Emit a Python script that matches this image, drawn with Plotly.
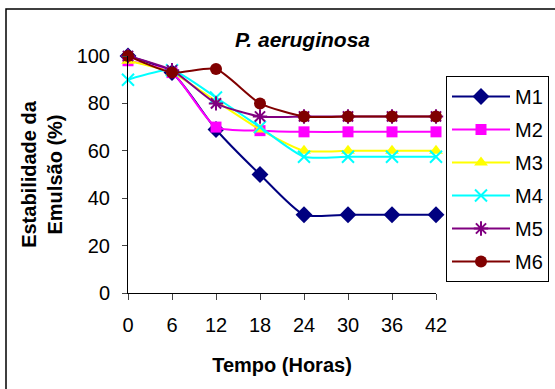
import plotly.graph_objects as go

# Time points (hours) and emulsion stability (%) for each medium
tempo = [0, 6, 12, 18, 24, 30, 36, 42]
m1 = [100, 93, 69, 50, 33, 33, 33, 33]
m2 = [98, 93, 70, 68.5, 68, 68, 68, 68]
m3 = [98, 93, 81, 69, 60, 60, 60, 60]
m4 = [90, 94, 82.5, 70, 57.5, 57.5, 57.5, 57.5]
m5 = [100, 94, 80, 74.5, 74.5, 74.5, 74.5, 74.5]
m6 = [100, 93, 94.5, 80, 74.5, 74.5, 74.5, 74.5]

series = [
    ("M1", m1, "#000080", dict(symbol="diamond", size=13)),
    ("M2", m2, "#FF00FF", dict(symbol="square", size=11)),
    ("M3", m3, "#FFFF00", dict(symbol="triangle-up", size=12)),
    ("M4", m4, "#00FFFF", dict(symbol="x-thin-open", size=12, line=dict(width=2, color="#00FFFF"))),
    ("M5", m5, "#800080", dict(symbol="asterisk-open", size=12, line=dict(width=2, color="#800080"))),
    ("M6", m6, "#800000", dict(symbol="circle", size=12)),
]

fig = go.Figure()
for i, (name, vals, color, mk) in enumerate(series):
    fig.add_trace(go.Scatter(
        x=tempo, y=vals, name=name, mode="lines+markers",
        line=dict(color=color, width=2, shape="spline", smoothing=0.6),
        marker=dict(color=color, **mk),
        cliponaxis=False, legendgroup=f"g{i}",
    ))

font_family = "Liberation Sans, Arial, sans-serif"

# plot area in pixels: x 128..436, y 56..293
L, R, T, B = 128, 436, 56, 293
W, H = R - L, B - T


def px_x(p):
    return (p - L) / W


def px_y(p):
    return (B - p) / H


fig.update_layout(
    width=555, height=389,
    margin=dict(l=L, r=555 - R, t=T, b=389 - B, autoexpand=False),
    paper_bgcolor="white", plot_bgcolor="white",
    font=dict(family=font_family, color="black", size=20),
    showlegend=True,
    legend=dict(
        x=px_x(446), y=px_y(76), xanchor="left", yanchor="top",
        bordercolor="black", borderwidth=1, bgcolor="white",
        font=dict(size=20), tracegroupgap=4, itemwidth=58,
    ),
    annotations=[dict(
        text="<b><i>P. aeruginosa</i></b>",
        x=px_x(302), y=px_y(40), xref="paper", yref="paper",
        xanchor="center", yanchor="middle",
        showarrow=False, font=dict(size=21),
    )],
    shapes=[dict(
        type="rect", xref="paper", yref="paper",
        x0=px_x(6), x1=2.0, y0=-1.0, y1=px_y(9),
        line=dict(color="black", width=1.5), fillcolor="rgba(0,0,0,0)",
        layer="below",
    )],
)

fig.update_xaxes(
    range=[0, 42], tickvals=tempo, ticks="outside", ticklen=6,
    showline=True, linecolor="black", linewidth=1, showgrid=False,
    zeroline=False, tickfont=dict(size=20), ticklabelstandoff=8,
    title=dict(text="<b>Tempo (Horas)</b>", font=dict(size=20), standoff=22),
)
fig.update_yaxes(
    range=[0, 100], tickvals=[0, 20, 40, 60, 80, 100], ticks="outside", ticklen=5,
    showline=True, linecolor="black", linewidth=1, showgrid=False,
    zeroline=False, tickfont=dict(size=20), ticklabelstandoff=8,
    title=dict(text="<b>Estabilidade da<br>Emulsão (%)</b>", font=dict(size=20), standoff=8),
)

fig.write_html("out.html")
